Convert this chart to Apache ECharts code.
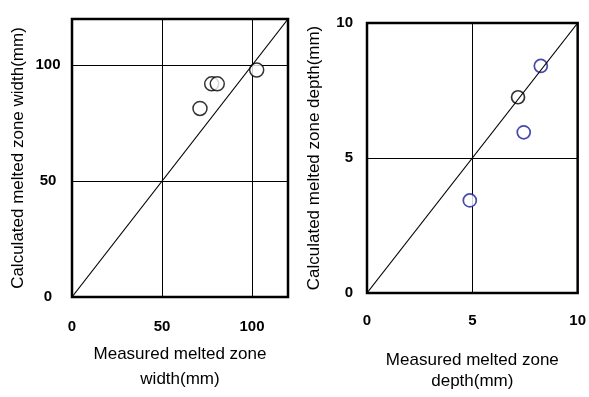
<!DOCTYPE html>
<html>
<head>
<meta charset="utf-8">
<script src="https://cdn.jsdelivr.net/npm/echarts@6/dist/echarts.min.js"></script>
<style>html,body{margin:0;padding:0;background:#fff}#c{width:589px;height:397px}</style>
</head>
<body>
<div id="c"></div>
<script>
// Left panel: melted zone width (mm)
const widthMeasured = [71.1, 77.6, 80.7, 102.6];
const widthCalculated = [81.4, 92.0, 92.0, 98.0];
const widthLine = [[0, 0], [120, 120]];
const widthTicks = [0, 50, 100];

// Right panel: melted zone depth (mm)
const depthMeasuredBlue = [8.25, 7.44, 4.88];
const depthCalculatedBlue = [8.41, 5.95, 3.43];
const depthMeasuredBlack = [7.17];
const depthCalculatedBlack = [7.25];
const depthLine = [[0, 0], [10, 10]];
const depthTicks = [0, 5, 10];

const pairs = (xs, ys) => xs.map((x, i) => [x, ys[i]]);
const FONT = '"Liberation Sans", Arial, sans-serif';
const tickLabel = { color: '#000', fontFamily: FONT, fontSize: 15, fontWeight: 'bold' };
const nameStyle = { color: '#000', fontFamily: FONT, fontSize: 17 };

const chart = echarts.init(document.getElementById('c'), null, { renderer: 'canvas' });
chart.setOption({
  animation: false,
  backgroundColor: '#fff',
  grid: [
    { left: 72, top: 19, width: 216, height: 283, show: true, borderColor: '#000', borderWidth: 2.5, backgroundColor: 'transparent' },
    { left: 367, top: 23, width: 212, height: 277, show: true, borderColor: '#000', borderWidth: 2.5, backgroundColor: 'transparent' }
  ],
  xAxis: [
    {
      gridIndex: 0, type: 'value', min: 0, max: 120, interval: 50,
      axisLine: { show: false }, axisTick: { show: false },
      splitLine: { show: true, lineStyle: { color: '#000', width: 1 } },
      axisLabel: Object.assign({ margin: 22, showMaxLabel: false,
        formatter: v => widthTicks.includes(v) ? String(v) : '' }, tickLabel),
      name: 'Measured melted zone\nwidth(mm)', nameLocation: 'middle', nameGap: 45,
      nameTextStyle: Object.assign({ lineHeight: 25 }, nameStyle)
    },
    {
      gridIndex: 1, type: 'value', min: 0, max: 10, interval: 5,
      axisLine: { show: false }, axisTick: { show: false },
      splitLine: { show: true, lineStyle: { color: '#000', width: 1 } },
      axisLabel: Object.assign({ margin: 20,
        formatter: v => depthTicks.includes(v) ? String(v) : '' }, tickLabel),
      name: 'Measured melted zone\ndepth(mm)', nameLocation: 'middle', nameGap: 57,
      nameTextStyle: Object.assign({ lineHeight: 21 }, nameStyle)
    }
  ],
  yAxis: [
    {
      gridIndex: 0, type: 'value', min: 0, max: 120, interval: 50,
      axisLine: { show: false }, axisTick: { show: false },
      splitLine: { show: true, lineStyle: { color: '#000', width: 1 } },
      axisLabel: Object.assign({ margin: 24, align: 'center', showMaxLabel: false,
        formatter: v => widthTicks.includes(v) ? String(v) : '' }, tickLabel),
      name: 'Calculated melted zone width(mm)', nameLocation: 'middle', nameGap: 45,
      nameTextStyle: nameStyle
    },
    {
      gridIndex: 1, type: 'value', min: 0, max: 10, interval: 5,
      axisLine: { show: false }, axisTick: { show: false },
      splitLine: { show: true, lineStyle: { color: '#000', width: 1 } },
      axisLabel: Object.assign({ margin: 14,
        formatter: v => depthTicks.includes(v) ? String(v) : '' }, tickLabel),
      name: 'Calculated melted zone depth(mm)', nameLocation: 'middle', nameGap: 44,
      nameTextStyle: nameStyle
    }
  ],
  series: [
    { type: 'line', xAxisIndex: 0, yAxisIndex: 0, data: widthLine, symbol: 'none',
      lineStyle: { color: '#000', width: 1.2 }, silent: true },
    { type: 'scatter', xAxisIndex: 0, yAxisIndex: 0, data: pairs(widthMeasured, widthCalculated),
      symbol: 'circle', symbolSize: 14,
      itemStyle: { color: '#fff', borderColor: '#000', borderWidth: 1.5 } },
    { type: 'line', xAxisIndex: 1, yAxisIndex: 1, data: depthLine, symbol: 'none',
      lineStyle: { color: '#000', width: 1.2 }, silent: true },
    { type: 'scatter', xAxisIndex: 1, yAxisIndex: 1, data: pairs(depthMeasuredBlack, depthCalculatedBlack),
      symbol: 'circle', symbolSize: 13,
      itemStyle: { color: 'rgba(255,255,255,0)', borderColor: '#000', borderWidth: 1.7 } },
    { type: 'scatter', xAxisIndex: 1, yAxisIndex: 1, data: pairs(depthMeasuredBlue, depthCalculatedBlue),
      symbol: 'circle', symbolSize: 13,
      itemStyle: { color: '#fff', borderColor: '#1a1a99', borderWidth: 1.7 } }
  ]
});
</script>
</body>
</html>
